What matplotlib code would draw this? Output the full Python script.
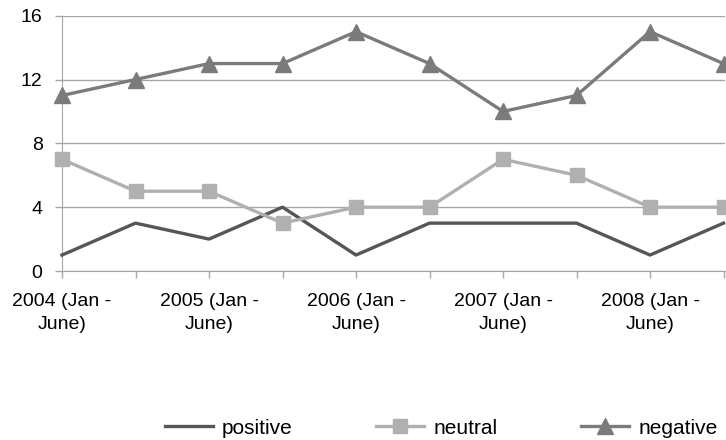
import matplotlib
matplotlib.use("Agg")
import matplotlib.pyplot as plt

categories = ["2004 (Jan -\nJune)", "", "2005 (Jan -\nJune)", "", "2006 (Jan -\nJune)", "",
              "2007 (Jan -\nJune)", "", "2008 (Jan -\nJune)", ""]
positive = [1, 3, 2, 4, 1, 3, 3, 3, 1, 3]
neutral = [7, 5, 5, 3, 4, 4, 7, 6, 4, 4]
negative = [11, 12, 13, 13, 15, 13, 10, 11, 15, 13]
y_ticks = [0, 4, 8, 12, 16]

plt.rcParams['font.family'] = ['Liberation Sans', 'DejaVu Sans']

fig = plt.figure(figsize=(7.26, 4.40), dpi=100)
ax = fig.add_axes([62/726, 1 - 271/440, (725 - 62)/726, (271 - 15.7)/440])

x = list(range(len(categories)))
ax.plot(x, positive, color="#565656", lw=2.4, label="positive", zorder=3, clip_on=False)
ax.plot(x, neutral, color="#b0b0b0", lw=2.4, marker="s", ms=10.5, label="neutral", zorder=3, clip_on=False)
ax.plot(x, negative, color="#7b7b7b", lw=2.4, marker="^", ms=11, label="negative", zorder=3, clip_on=False)

ax.set_ylim(0, 16)
ax.set_xlim(0, 9.02)
ax.set_yticks(y_ticks)
ax.set_xticks(x)
ax.set_xticklabels(categories)
ax.yaxis.grid(True, color="#a6a6a6", lw=1)
ax.set_axisbelow(True)
for s in ["top", "right"]:
    ax.spines[s].set_visible(False)
ax.spines["left"].set_color("#a6a6a6")
ax.spines["bottom"].set_color("#a6a6a6")
ax.tick_params(axis="both", colors="#a6a6a6", labelcolor="black", labelsize=14, length=5, width=1)
ax.tick_params(axis="x", pad=11)
ax.tick_params(axis="y", pad=9)
for lbl in ax.get_xticklabels():
    lbl.set_linespacing(1.45)

fig.legend(loc="center", bbox_to_anchor=(441/726, 1 - 428/440), ncol=3, frameon=False,
           fontsize=15, handlelength=2.3, columnspacing=4.0, handletextpad=0.45)

fig.savefig("out.png", dpi=100)
